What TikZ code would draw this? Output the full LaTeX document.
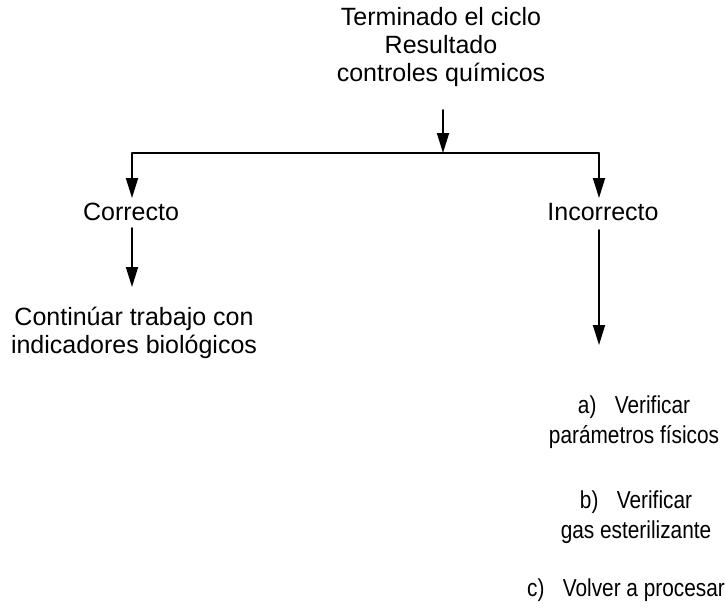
\documentclass[tikz,border=0pt]{standalone}
\usepackage{fontspec}
\setmainfont{Liberation Sans}
\newfontfamily\estrecha[FakeStretch=0.85]{Liberation Sans}
\usetikzlibrary{arrows.meta}

\begin{document}
\begin{tikzpicture}[
  x=1pt, y=-1pt,
  line cap=round,
  line join=round,
  txt/.style={align=center, inner sep=0pt,
    font=\fontsize{25}{28}\selectfont},
  paso/.style={txt, font=\fontsize{24.5}{30}\selectfont\estrecha},
  flecha/.style={line width=1.8pt,
    -{Triangle[length=20pt, width=12pt]}}
]
  \useasboundingbox (0,0) rectangle (726,610);

  % Textos
  \node[txt] (ciclo) at (441,47) {Terminado el ciclo\\Resultado\\controles químicos};
  \node[txt] (bien)  at (131,212) {Correcto};
  \node[txt] (mal)   at (603,212) {Incorrecto};
  \node[txt] (seguir) at (134,333) {Continúar trabajo con\\indicadores biológicos};
  \node[paso] (paso1) at (634,422) {a)\hspace{0.75em}Verificar\\parámetros físicos};
  \node[paso] (paso2) at (636,517) {b)\hspace{0.75em}Verificar\\gas esterilizante};
  \node[paso] (paso3) at (626,590) {c)\hspace{0.75em}Volver a procesar};

  % Ramas
  \coordinate (medio) at (443,153);
  \coordinate (izq)   at (132,153);
  \coordinate (der)   at (599,153);
  \coordinate (finI)  at (132,287);
  \coordinate (finD)  at (599,345);

  \draw[flecha] (443,110) -- (medio);
  \draw[line width=1.8pt] (izq) -- (der);
  \draw[flecha] (izq) -- (132,198);
  \draw[flecha] (der) -- (599,198);
  \draw[flecha] (132,228) -- (finI);
  \draw[flecha] (599,230) -- (finD);
\end{tikzpicture}
\end{document}
